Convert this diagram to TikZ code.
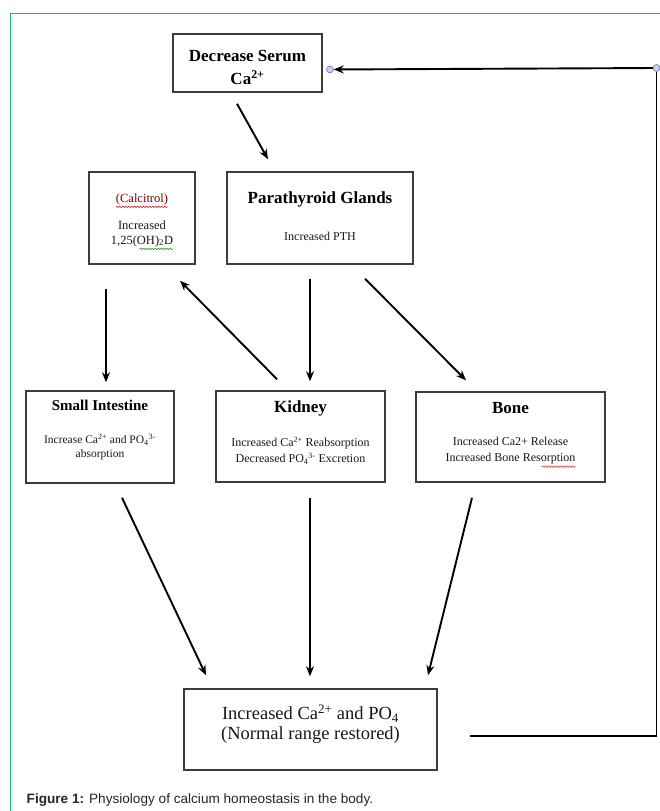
\documentclass[tikz,border=0pt]{standalone}
\usepackage{fontspec}
\setmainfont{Liberation Serif}
\newfontfamily\capfont{Liberation Sans}
\usetikzlibrary{calc,arrows.meta,decorations.pathmorphing}
\definecolor{framegreen}{RGB}{32,176,150}
\definecolor{boxgray}{RGB}{60,60,60}
\definecolor{handlefill}{RGB}{200,208,240}
\definecolor{spellred}{RGB}{205,40,40}
\definecolor{spellgreen}{RGB}{40,160,60}
\tikzset{
    box/.style={draw=boxgray, line width=1.5pt, rectangle, inner sep=0pt},
    flow/.style={-{Stealth[length=10pt,width=8pt]}, line width=1.9pt},
    title/.style={inner sep=0pt, font=\fontsize{17}{20}\selectfont\bfseries},
    body/.style={inner sep=0pt, align=center, text=black!90},
    squiggle/.style={decorate, decoration={snake, amplitude=0.7pt, segment length=3pt}, line width=0.6pt},
    handle/.style={circle, draw=gray!60!blue, fill=handlefill, inner sep=0pt, minimum size=7pt},
}
\begin{document}
\begin{tikzpicture}[x=1pt,y=-1pt]
    \useasboundingbox (0,0) rectangle (660,811);
    \fill[white] (0,0) rectangle (660,811);
    \draw[framegreen, line width=1pt] (10.5,811) -- (10.5,13.5) -- (660,13.5);

    \node[box, minimum width=149pt, minimum height=58pt] (dec) at (247.5,63) {};
    \node[title, align=center, font=\fontsize{17}{23}\selectfont\bfseries] (decT) at (247.5,67.5) {Decrease Serum\\Ca\textsuperscript{2+}};

    \node[box, minimum width=106pt, minimum height=92pt] (calc) at (142,218) {};
    \node[body, text=red!45!black, font=\fontsize{12.5}{15}\selectfont] (calcT) at (142,199) {(Calcitrol)};
    \node[body, font=\fontsize{12.5}{15}\selectfont] (calcB) at (142,233.5) {Increased\\1,25(OH)\textsubscript{2}D};
    \draw[squiggle, spellred] ($(calcT.south west)+(0,2)$) -- ($(calcT.south east)+(0,2)$);
    \draw[squiggle, spellgreen] ($(calcB.south east)+(-34,2)$) -- ($(calcB.south east)+(0,2)$);

    \node[box, minimum width=186pt, minimum height=92pt] (para) at (320,218) {};
    \node[title] (paraT) at (320,199) {Parathyroid Glands};
    \node[body, font=\fontsize{12}{14}\selectfont] (paraB) at (320,236) {Increased PTH};

    \node[box, minimum width=148pt, minimum height=92pt] (si) at (100,437) {};
    \node[title, font=\fontsize{15}{18}\selectfont\bfseries] (siT) at (100,405) {Small Intestine};
    \node[body, font=\fontsize{11.5}{14}\selectfont] (siB) at (100,447) {Increase Ca\textsuperscript{2+} and PO\textsubscript{4}\textsuperscript{3-}\\absorption};

    \node[box, minimum width=169pt, minimum height=91pt] (kid) at (300.5,436.5) {};
    \node[title] (kidT) at (300.5,408) {Kidney};
    \node[body, font=\fontsize{12}{16}\selectfont] (kidB) at (300.5,451) {Increased Ca\textsuperscript{2+} Reabsorption\\Decreased PO\textsubscript{4}\textsuperscript{3-} Excretion};

    \node[box, minimum width=189pt, minimum height=90pt] (bone) at (510.5,437) {};
    \node[title] (boneT) at (510.5,408) {Bone};
    \node[body, font=\fontsize{12}{16}\selectfont] (boneB) at (510.5,451) {Increased Ca2+ Release\\Increased Bone Resorption};
    \draw[squiggle, spellred] ($(boneB.south east)+(-34,2)$) -- ($(boneB.south east)+(0,2)$);

    \node[box, minimum width=253pt, minimum height=81pt] (bot) at (310.5,729.5) {};
    \node[body, font=\fontsize{18.5}{20}\selectfont] (botT) at (310.5,724) {Increased Ca\textsuperscript{2+} and PO\textsubscript{4}\\(Normal range restored)};

    \draw[flow] ($(dec.south)+(-10.5,11)$) -- ($(para.north)+(-52,-12)$);
    \draw[flow] ($(para.south)+(-10,14)$) -- ($(kid.north)+(9.5,-9)$);
    \draw[flow] ($(para.south)+(45,14)$) -- ($(bone.north)+(-44.5,-11)$);
    \draw[flow] ($(kid.north)+(-23.5,-11)$) -- ($(calc.south)+(38,16)$);
    \draw[flow] ($(calc.south)+(-36,24)$) -- ($(si.north)+(6,-8)$);
    \draw[flow] ($(si.south)+(22,14)$) -- ($(bot.north)+(-104.5,-13)$);
    \draw[flow] ($(kid.south)+(9.5,15)$) -- ($(bot.north)+(-0.5,-12)$);
    \draw[flow] ($(bone.south)+(-38.5,15)$) -- ($(bot.north)+(117.5,-13)$);

    % feedback loop back to the top box
    \node[handle] (hA) at (330,69.5) {};
    \node[handle] (hB) at (656.5,68) {};
    \draw[line width=1.9pt] ($(bot.east)+(32,6.5)$) -| (hB);
    \draw[flow] (hB) -- (hA);

    \node[anchor=base west, inner sep=0pt, text=black!85, font=\capfont\fontsize{13.6}{16}\selectfont] (caption) at (26.5,803) {\textbf{Figure 1:} Physiology of calcium homeostasis in the body.};
\end{tikzpicture}
\end{document}
